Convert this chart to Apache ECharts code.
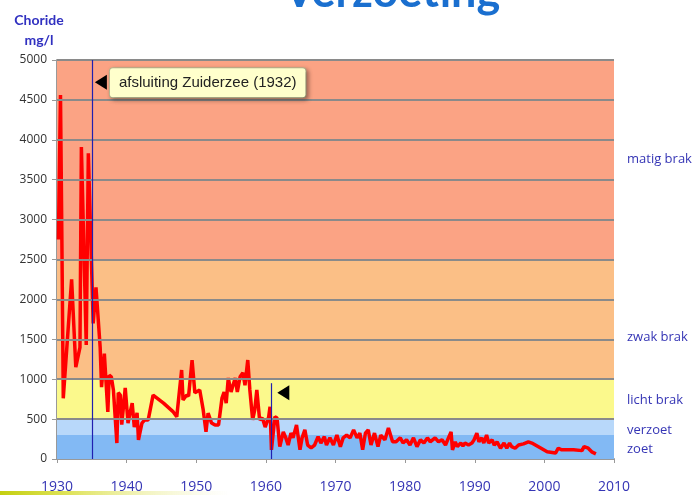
<!DOCTYPE html>
<html>
<head>
    <meta charset="utf-8">
    <title>Verzoeting</title>
    <script src="https://cdn.jsdelivr.net/npm/echarts@6/dist/echarts.min.js"></script>
    <style>
        html, body { margin: 0; padding: 0; background: #fff; }
        #main { width: 697px; height: 495px; }
    </style>
</head>
<body>
<div id="main"></div>
<script type="text/javascript">
    var chloride = [
        [1930.2, 2750], [1930.5, 4560], [1930.7, 2750], [1930.9, 760], [1932.1, 2250],
        [1932.7, 1150], [1933.3, 1400], [1933.5, 3910], [1934.2, 1430], [1934.5, 3830],
        [1935.2, 1700], [1935.6, 2150], [1936.2, 1400], [1936.4, 900], [1936.8, 1320],
        [1937.0, 1320], [1937.3, 590], [1937.5, 1050], [1937.8, 1030], [1938.1, 865],
        [1938.6, 200], [1938.8, 830], [1939.1, 800], [1939.3, 430], [1939.8, 890],
        [1940.2, 450], [1940.5, 580], [1940.8, 700], [1941.1, 400], [1941.5, 580],
        [1941.7, 240], [1942.2, 450], [1942.6, 490], [1943.1, 490], [1943.8, 800],
        [1945.3, 700], [1946.7, 590], [1947.2, 530], [1947.4, 550], [1947.9, 1115],
        [1948.1, 740], [1948.6, 800], [1948.9, 790], [1949.4, 1240], [1949.8, 830],
        [1950.5, 865], [1951.0, 615], [1951.4, 340], [1951.7, 575], [1952.2, 450],
        [1952.7, 425], [1953.2, 425], [1953.7, 765], [1954.0, 840], [1954.3, 700],
        [1954.6, 1015], [1955.0, 840], [1955.2, 900], [1955.6, 1015], [1955.9, 840],
        [1956.3, 1030], [1956.7, 1080], [1957.0, 925], [1957.4, 1240], [1957.7, 865],
        [1958.1, 490], [1958.4, 615], [1958.7, 865], [1959.1, 490], [1959.5, 515],
        [1959.9, 400], [1960.4, 525], [1960.6, 655], [1960.8, 115], [1961.3, 530],
        [1961.6, 515], [1962.0, 155], [1962.5, 340], [1962.8, 280], [1963.2, 175],
        [1963.6, 325], [1963.9, 265], [1964.4, 425], [1964.9, 115], [1965.2, 265],
        [1965.6, 365], [1966.0, 175], [1966.5, 140], [1967.0, 175], [1967.5, 280],
        [1967.9, 200], [1968.4, 280], [1968.7, 175], [1969.2, 265], [1969.7, 175],
        [1970.2, 300], [1970.7, 155], [1971.1, 265], [1971.6, 300], [1972.1, 265],
        [1972.6, 365], [1973.1, 265], [1973.5, 325], [1973.9, 115], [1974.3, 325],
        [1974.7, 365], [1975.1, 175], [1975.6, 325], [1976.1, 155], [1976.5, 300],
        [1977.1, 240], [1977.6, 390], [1978.2, 215], [1978.7, 215], [1979.3, 265],
        [1979.7, 200], [1980.2, 240], [1980.7, 175], [1981.2, 265], [1981.7, 155],
        [1982.2, 240], [1982.7, 200], [1983.2, 265], [1983.6, 215], [1984.3, 265],
        [1984.8, 215], [1985.3, 240], [1985.8, 175], [1986.3, 280], [1986.6, 340],
        [1986.8, 115], [1987.2, 215], [1987.5, 155], [1988.0, 200], [1988.3, 165],
        [1988.6, 200], [1989.1, 175], [1989.6, 200], [1989.9, 240], [1990.3, 325],
        [1990.6, 215], [1991.0, 265], [1991.3, 200], [1991.7, 300], [1992.0, 200],
        [1992.5, 240], [1992.8, 175], [1993.2, 215], [1993.7, 135], [1994.2, 200],
        [1994.6, 135], [1995.0, 200], [1995.3, 155], [1995.8, 135], [1996.3, 175],
        [1997.0, 190], [1997.7, 215], [1998.2, 200], [1999.4, 140], [2000.4, 90],
        [2001.6, 75], [2002.0, 135], [2002.5, 115], [2004.2, 115], [2005.4, 105],
        [2005.7, 155], [2006.3, 135], [2006.8, 90], [2007.4, 65]
    ];

    // salinity classes
    var bandNames  = ['zoet', 'verzoet', 'licht brak', 'zwak brak', 'matig brak'];
    var bandFrom   = [0, 300, 500, 1000, 2500];
    var bandTo     = [300, 500, 1000, 2500, 5000];
    var bandColors = ['#82b9f4', '#b8d8fa', '#fbf98c', '#fbbf86', '#fba384'];
    var bandLabelAt = [125, 365, 740, 1530, 3750];

    var xTicks = [1930, 1940, 1950, 1960, 1970, 1980, 1990, 2000, 2010];
    var yTicks = [500, 1000, 1500, 2000, 2500, 3000, 3500, 4000, 4500, 5000];
    var closingYear = 1935.0;
    var dykeYear = 1960.75;

    var chart = echarts.init(document.getElementById('main'));

    var bandAreas = bandFrom.map(function (f, i) {
        return [{ yAxis: f, itemStyle: { color: bandColors[i] } }, { yAxis: bandTo[i] }];
    });

    // horizontal grid lines drawn over the bands but under the red line
    var gridLines = yTicks.map(function (v) { return { yAxis: v }; });

    var bandLabels = bandNames.map(function (n, i) {
        return {
            coord: [xTicks[xTicks.length - 1], bandLabelAt[i]],
            symbolSize: 0,
            label: {
                show: true, formatter: n, position: 'right', distance: 13,
                color: '#3535b5', fontSize: 13, fontFamily: 'Open Sans'
            }
        };
    });

    var option = {
        animation: false,
        title: [
            {
                text: 'Verzoeting',
                left: 387, top: -35, textAlign: 'center',
                textStyle: { color: '#1a6fcf', fontSize: 45, fontWeight: 'bold', fontFamily: 'Lato' }
            },
            {
                text: 'Choride\nmg/l',
                left: 34, top: 5, textAlign: 'center',
                textStyle: { color: '#3030c0', fontSize: 14, fontWeight: 'bold', lineHeight: 20, fontFamily: 'Lato' }
            }
        ],
        grid: { left: 57, right: 83, top: 60, bottom: 36 },
        xAxis: {
            type: 'value', min: 1930, max: 2010, interval: 10,
            axisLine: { lineStyle: { color: '#999', width: 2 } },
            axisTick: { length: 4, lineStyle: { color: '#999' } },
            splitLine: { show: false },
            axisLabel: {
                color: '#3535b5', fontSize: 14, margin: 21, fontFamily: 'Open Sans',
                formatter: function (v) { return String(v); }
            }
        },
        yAxis: {
            type: 'value', min: 0, max: 5000, interval: 500,
            axisLine: { show: true, lineStyle: { color: '#999', width: 2 } },
            axisTick: { show: true, length: 5, lineStyle: { color: '#999' } },
            splitLine: { show: false },
            axisLabel: {
                color: '#333', fontSize: 12, margin: 10, fontFamily: 'Open Sans',
                formatter: function (v) { return String(v); }
            }
        },
        graphic: [{
            type: 'rect', shape: { x: 0, y: 491, width: 230, height: 4 },
            style: {
                fill: new echarts.graphic.LinearGradient(0, 0, 1, 0, [
                    { offset: 0, color: '#c4cf10' }, { offset: 0.3, color: '#dfe35a' },
                    { offset: 1, color: 'rgba(240,240,180,0)' }
                ])
            },
            z: -5
        }],
        series: [
            {
                type: 'line', z: 1, data: [], silent: true,
                markArea: { silent: true, data: bandAreas }
            },
            {
                type: 'line', z: 2, data: [], silent: true,
                markLine: {
                    silent: true, symbol: 'none', label: { show: false },
                    lineStyle: { color: '#8a8a8a', width: 2, type: 'solid' },
                    data: gridLines
                }
            },
            {
                name: 'Chloride', type: 'line', data: chloride, z: 3,
                symbol: 'none', smooth: false,
                lineStyle: { color: '#ff0000', width: 3.5 },
                markLine: {
                    silent: true, symbol: 'none', label: { show: false },
                    lineStyle: { color: '#2020b0', width: 1.2, type: 'solid' },
                    data: [
                        [{ coord: [closingYear, 0] }, { coord: [closingYear, 5000] }],
                        [{ coord: [dykeYear, 0] }, { coord: [dykeYear, 950] }]
                    ]
                },
                markPoint: {
                    silent: true,
                    data: [
                        {
                            coord: [1936.3, 4720], symbol: 'triangle', symbolRotate: 90,
                            symbolSize: [15, 12], itemStyle: { color: '#000' }, label: { show: false }
                        },
                        {
                            coord: [1962.5, 830], symbol: 'triangle', symbolRotate: 90,
                            symbolSize: [15, 12], itemStyle: { color: '#000' }, label: { show: false }
                        },
                        {
                            coord: [1937.6, 4715], symbolSize: 0,
                            label: {
                                show: true, position: 'right', distance: 0,
                                formatter: 'afsluiting Zuiderzee (1932)',
                                color: '#222', fontSize: 15, fontFamily: 'Liberation Sans',
                                backgroundColor: '#ffffcc', borderColor: '#b8b890', borderWidth: 1,
                                borderRadius: 3, padding: [7, 9, 7, 9],
                                shadowColor: 'rgba(0,0,0,0.35)', shadowBlur: 4, shadowOffsetX: 2, shadowOffsetY: 2
                            }
                        }
                    ].concat(bandLabels)
                }
            }
        ]
    };

    chart.setOption(option);
</script>
</body>
</html>
